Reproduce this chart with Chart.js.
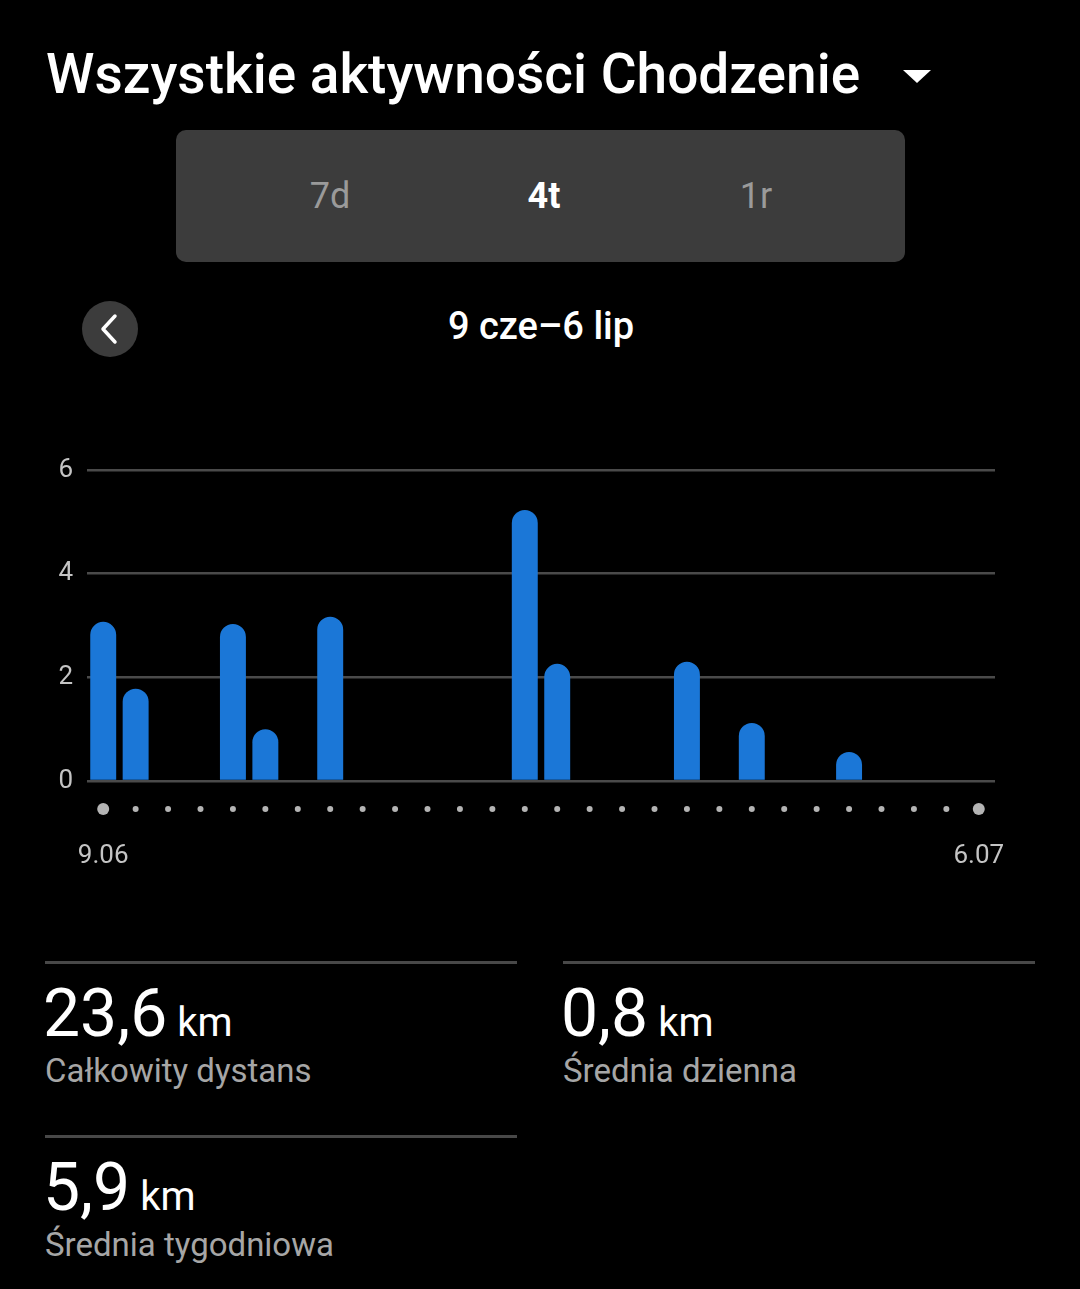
<!DOCTYPE html>
<html lang="pl">
	<head>
		<meta charset="UTF-8">
		<title>Wszystkie aktywności Chodzenie</title>
		<script src="https://cdn.jsdelivr.net/npm/chart.js@4.4.1/dist/chart.umd.min.js"></script>
		<style>
			body { margin: 0; background: #000; width: 1080px; height: 1289px; position: relative; overflow: hidden; font-family: Roboto, sans-serif; color: #fff; }
			.abs { position: absolute; }
			#title { left: 46px; top: 42px; font-size: 55px; font-weight: 500; white-space: nowrap; }
			#caret { left: 903px; top: 70px; width: 0; height: 0; border-left: 14px solid transparent; border-right: 14px solid transparent; border-top: 13px solid #fff; }
			#tabs { left: 176px; top: 130px; width: 729px; height: 132px; background: #3c3c3c; border-radius: 10px; }
			.tab { position: absolute; top: 0; line-height: 132px; font-size: 36px; color: #9a9a9a; transform: translateX(-50%); }
			#back { left: 82px; top: 301px; width: 56px; height: 56px; border-radius: 50%; background: #3c3c3c; }
			#range { left: 0; width: 1082px; top: 304px; text-align: center; font-size: 38px; font-weight: 500; }
			#chart { left: 0; top: 440px; }
			.sep { height: 3px; background: #484848; }
			.big { font-size: 66px; white-space: nowrap; }
			.big span { font-size: 40px; margin-left: 10px; }
			.lbl { font-size: 33px; color: #a6a6a6; white-space: nowrap; }
		</style>
	</head>
	<body>
		<div id="title" class="abs">Wszystkie aktywności Chodzenie</div>
		<div id="caret" class="abs"></div>

		<div id="tabs" class="abs">
			<div class="tab" style="left:154px;">7d</div>
			<div class="tab" style="left:368px; color:#fff; font-weight:700;">4t</div>
			<div class="tab" style="left:580px;">1r</div>
		</div>

		<!-- back arrow -->
		<div id="back" class="abs">
			<svg width="56" height="56" viewBox="0 0 56 56"><polyline points="33,15 21,28 33,41" fill="none" stroke="#fff" stroke-width="3.5" stroke-linecap="round" stroke-linejoin="round"/></svg>
		</div>
		<div id="range" class="abs">9 cze–6 lip</div>

		<canvas id="chart" class="abs" width="1080" height="440"></canvas>

		<div class="abs sep" style="left:45px; top:961px; width:472px;"></div>
		<div class="abs sep" style="left:563px; top:961px; width:472px;"></div>
		<div class="abs sep" style="left:45px; top:1135px; width:472px;"></div>

		<div class="abs big" style="left:43px; top:975px;">23,6<span>km</span></div>
		<div class="abs lbl" style="left:45px; top:1051px;">Całkowity dystans</div>
		<div class="abs big" style="left:561px; top:975px;">0,8<span>km</span></div>
		<div class="abs lbl" style="left:563px; top:1051px;">Średnia dzienna</div>
		<div class="abs big" style="left:43px; top:1149px;">5,9<span>km</span></div>
		<div class="abs lbl" style="left:45px; top:1225px;">Średnia tygodniowa</div>

		<script>
			// 9 June - 6 July, one bar per day
			var days = ["9.06", "10.06", "11.06", "12.06", "13.06", "14.06", "15.06", "16.06", "17.06", "18.06",
				"19.06", "20.06", "21.06", "22.06", "23.06", "24.06", "25.06", "26.06", "27.06", "28.06",
				"29.06", "30.06", "1.07", "2.07", "3.07", "4.07", "5.07", "6.07"];
			var distanceKm = [3.07, 1.78, 0, 0, 3.03, 1.0, 0, 3.17, 0, 0,
				0, 0, 0, 5.23, 2.26, 0, 0, 0, 2.30, 0,
				1.12, 0, 0, 0.56, 0, 0, 0, 0];
			var yTicks = [0, 2, 4, 6];

			// little dots under the axis, one per day, bigger at both ends
			var dayDots = {
				id: "dayDots",
				afterDraw: function (chart) {
					var ctx = chart.ctx;
					var xs = chart.scales.x;
					var y = chart.chartArea.bottom + 28;
					ctx.save();
					ctx.fillStyle = "#b4b4b4";
					for (var i = 0; i < days.length; i++) {
						var r = (i == 0 || i == days.length - 1) ? 6 : 3;
						ctx.beginPath();
						ctx.arc(xs.getPixelForValue(i), y, r, 0, Math.PI * 2);
						ctx.fill();
					}
					ctx.restore();
				}
			};

			new Chart(document.getElementById("chart"), {
				type: "bar",
				data: {
					labels: days,
					datasets: [{
						data: distanceKm,
						backgroundColor: "#1b77d7",
						borderRadius: { topLeft: 13, topRight: 13, bottomLeft: 0, bottomRight: 0 },
						borderSkipped: "start",
						barPercentage: 0.8,
						categoryPercentage: 1.0
					}]
				},
				options: {
					responsive: false,
					animation: false,
					layout: { padding: { top: 30, right: 85, left: 0, bottom: 0 } },
					plugins: { legend: { display: false }, tooltip: { enabled: false } },
					scales: {
						x: {
							offset: true,
							grid: { display: false, drawTicks: false },
							border: { display: false },
							afterFit: function (s) { s.height = 99; },
							ticks: {
								autoSkip: false, maxRotation: 0, padding: 60,
								color: "#c4c4c4", font: { family: "Roboto", size: 26 },
								callback: function (v, i) { return (i == 0 || i == days.length - 1) ? days[i] : ""; }
							}
						},
						y: {
							min: 0, max: 6,
							afterFit: function (s) { s.width = 87; },
							afterBuildTicks: function (s) { s.ticks = yTicks.map(function (v) { return { value: v }; }); },
							grid: { color: "#4a4a4a", lineWidth: 2.5, drawTicks: false },
							border: { display: false },
							ticks: { padding: 14, color: "#c4c4c4", font: { family: "Roboto", size: 26 } }
						}
					}
				},
				plugins: [dayDots]
			});
		</script>
	</body>
</html>
